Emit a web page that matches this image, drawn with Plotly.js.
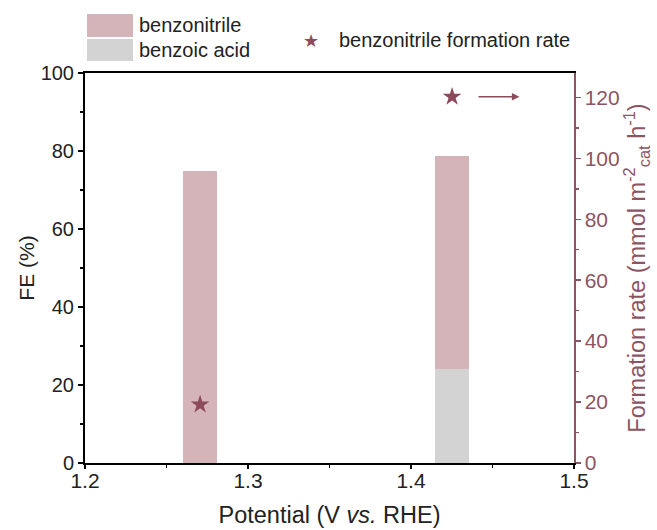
<!DOCTYPE html>
<html><head><meta charset="utf-8">
<script src="https://cdn.plot.ly/plotly-3.0.1.min.js"></script>
<style>body{margin:0;background:#fff}#c{width:657px;height:530px}</style>
</head><body><div id="c"></div>
<script>
const potentials = [1.2706, 1.4252];
const feBenzoicAcid = [0, 24];
const feBenzonitrile = [75, 54.8];
const ratePotentials = [1.2706, 1.4252];
const rateBenzonitrile = [19.2, 120.2];
const leftTicks = [0, 20, 40, 60, 80, 100];
const rightTicks = [0, 20, 40, 60, 80, 100, 120];
const xTicks = [1.2, 1.3, 1.4, 1.5];

const PINK = '#d4b3b9', GRAY = '#d3d3d3', STAR = '#8c4a5b', RAX = '#8b5563';
const F = 'Liberation Sans, Arial, sans-serif';
const L = 85, R = 574, T = 73, B = 463, W = R - L, H = B - T;
const px = v => (v - L) / W, py = v => (B - v) / H;

const traces = [
  {type:'bar', x:potentials, y:feBenzoicAcid, width:0.021, marker:{color:GRAY}, name:'benzoic acid', showlegend:false, hoverinfo:'skip'},
  {type:'bar', x:potentials, y:feBenzonitrile, width:0.021, marker:{color:PINK}, name:'benzonitrile', showlegend:false, hoverinfo:'skip'},
  {type:'scatter', mode:'markers', x:ratePotentials, y:rateBenzonitrile, yaxis:'y2', marker:{symbol:'star', size:14, color:STAR}, showlegend:false}
];

const layout = {
  width:657, height:530,
  margin:{l:L, r:657-R, t:T, b:530-B},
  paper_bgcolor:'#fff', plot_bgcolor:'#fff',
  barmode:'stack', showlegend:false,
  font:{family:F, size:20, color:'#222'},
  xaxis:{range:[1.2,1.5], tickvals:xTicks, ticktext:xTicks.map(v=>v.toFixed(1)),
    ticks:'outside', ticklen:4, tickwidth:1.5, tickcolor:'#000', ticklabelstandoff:-6,
    minor:{dtick:0.05, ticks:'outside', ticklen:3, tickcolor:'#000'},
    showline:true, linecolor:'#000', linewidth:2, mirror:true, showgrid:false, zeroline:false,
    tickfont:{size:21, family:F, color:'#222'},
    title:{text:'Potential (V <i>vs.</i> RHE)', font:{size:23.5, family:F, color:'#222'}, standoff:15}},
  yaxis:{range:[0,100], tickvals:leftTicks, ticks:'outside', ticklen:5, tickwidth:1.5, tickcolor:'#000',
    minor:{dtick:10, ticks:'outside', ticklen:3, tickcolor:'#000'},
    showline:true, linecolor:'#000', linewidth:2, showgrid:false, zeroline:false,
    tickfont:{size:20, family:F, color:'#222'},
    title:{text:'FE (%)', font:{size:21, family:F, color:'#222'}, standoff:0}},
  yaxis2:{overlaying:'y', side:'right', range:[0,128], tickvals:rightTicks,
    ticks:'outside', ticklen:5, tickwidth:1.5, tickcolor:RAX,
    minor:{dtick:10, ticks:'outside', ticklen:3, tickcolor:RAX},
    showline:true, linecolor:RAX, linewidth:1.5, showgrid:false, zeroline:false,
    tickfont:{size:21, family:F, color:RAX},
    title:{text:'Formation rate (mmol m<sup>-2</sup><sub>cat</sub> h<sup>-1</sup>)', font:{size:23.5, family:F, color:RAX}, standoff:8}},
  shapes:[
    {type:'rect', xref:'paper', yref:'paper', x0:px(87), x1:px(133), y0:py(37), y1:py(14), fillcolor:PINK, line:{width:0}},
    {type:'rect', xref:'paper', yref:'paper', x0:px(87), x1:px(133), y0:py(61), y1:py(39), fillcolor:GRAY, line:{width:0}}
  ],
  annotations:[
    {xref:'paper', yref:'paper', x:px(137), y:py(25), xanchor:'left', yanchor:'middle', text:'benzonitrile', showarrow:false, font:{size:20, family:F, color:'#222'}},
    {xref:'paper', yref:'paper', x:px(137), y:py(50), xanchor:'left', yanchor:'middle', text:'benzoic acid', showarrow:false, font:{size:20, family:F, color:'#222'}},
    {xref:'paper', yref:'paper', x:px(311), y:py(40), xanchor:'center', yanchor:'middle', text:'★', showarrow:false, font:{size:18, family:'DejaVu Sans', color:STAR}},
    {xref:'paper', yref:'paper', x:px(337), y:py(40), xanchor:'left', yanchor:'middle', text:'benzonitrile formation rate', showarrow:false, font:{size:20, family:F, color:'#222'}},
    {xref:'x', yref:'y2', axref:'x', ayref:'y2', x:1.4665, y:120.2, ax:1.4405, ay:120.2, text:'', showarrow:true, arrowhead:2, arrowsize:1, arrowwidth:1.5, arrowcolor:STAR}
  ]
};
Plotly.newPlot('c', traces, layout, {displayModeBar:false, staticPlot:true});
</script></body></html>
